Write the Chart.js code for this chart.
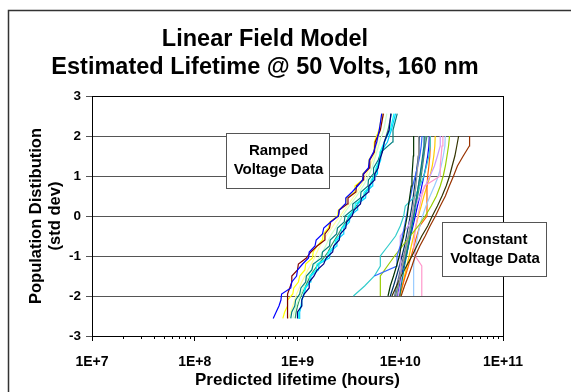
<!DOCTYPE html>
<html>
<head>
<meta charset="utf-8">
<script src="https://cdn.jsdelivr.net/npm/chart.js@4/dist/chart.umd.min.js"></script>
<style>
  html, body { margin: 0; padding: 0; background: #fff; }
</style>
</head>
<body>
<canvas id="chart" width="571" height="392"></canvas>
<script>
// population positions (std dev) shared by the series of each group
const rampY = [-2.56, -2.4, -2.25, -2.1, -1.95, -1.8, -1.65, -1.5, -1.35, -1.2, -1.05, -0.9, -0.75, -0.6, -0.45, -0.3, -0.15, 0, 0.15, 0.3, 0.45, 0.6, 0.75, 0.9, 1.05, 1.2, 1.4, 1.6, 1.85, 2.15, 2.56];
const constY = [-2, -1.75, -1.5, -1.25, -1, -0.75, -0.5, -0.25, 0, 0.25, 0.5, 0.75, 1, 1.25, 1.5, 1.75, 2];

// ramped voltage data, lifetime in 1E+9 hours
const rampLife = [
  [0.58, 0.62, 0.66, 0.69, 0.70, 0.86, 0.88, 0.98, 1.00, 1.12, 1.28, 1.30, 1.48, 1.52, 1.75, 1.80, 2.10, 2.50, 2.55, 2.90, 2.95, 3.40, 3.85, 4.30, 4.35, 4.90, 5.00, 5.50, 5.90, 6.25, 6.60],
  [0.80, 0.80, 0.80, 0.80, 0.80, 0.84, 0.88, 0.88, 1.00, 1.02, 1.22, 1.35, 1.55, 1.85, 1.85, 2.05, 2.10, 2.50, 2.55, 3.05, 3.10, 3.70, 3.75, 4.35, 4.40, 5.00, 5.05, 5.60, 5.70, 6.40, 6.85],
  [1.00, 1.00, 1.10, 1.10, 1.16, 1.30, 1.30, 1.45, 1.55, 1.80, 1.90, 2.20, 2.25, 2.55, 2.60, 2.95, 3.00, 3.40, 3.55, 4.10, 4.20, 4.90, 4.95, 5.60, 5.65, 6.10, 6.30, 6.70, 7.00, 7.80, 8.10],
  [0.72, 0.75, 0.80, 0.80, 0.90, 0.92, 1.02, 1.05, 1.18, 1.20, 1.40, 1.42, 1.55, 1.75, 1.78, 2.00, 2.05, 2.45, 2.50, 2.95, 3.00, 3.60, 3.62, 4.25, 4.30, 4.90, 4.95, 5.55, 5.60, 6.20, 6.70],
  [1.02, 1.03, 1.08, 1.10, 1.15, 1.18, 1.30, 1.32, 1.52, 1.55, 1.95, 2.00, 2.30, 2.35, 2.65, 2.70, 3.05, 3.10, 3.60, 3.65, 4.40, 4.45, 5.15, 5.20, 5.75, 5.80, 6.30, 6.35, 7.00, 8.00, 8.70],
  [0.86, 0.88, 0.94, 0.96, 1.05, 1.08, 1.20, 1.22, 1.38, 1.42, 1.72, 1.75, 2.05, 2.08, 2.40, 2.45, 2.85, 2.90, 3.40, 3.45, 4.10, 4.15, 4.85, 4.90, 5.45, 5.50, 6.10, 6.50, 8.40, 8.50, 9.35],
  [1.04, 1.05, 1.09, 1.10, 1.16, 1.20, 1.33, 1.35, 1.60, 1.62, 2.05, 2.08, 2.40, 2.42, 2.80, 2.82, 3.20, 3.25, 3.80, 3.85, 4.60, 4.65, 5.35, 5.40, 5.95, 6.00, 6.45, 6.50, 7.50, 8.20, 9.00],
  [0.82, 0.86, 0.90, 0.94, 0.98, 1.04, 1.10, 1.18, 1.26, 1.36, 1.46, 1.55, 1.65, 1.78, 1.95, 2.15, 2.35, 2.60, 2.85, 3.15, 3.45, 3.80, 4.10, 4.40, 4.70, 5.00, 5.35, 5.70, 6.00, 6.40, 6.90],
  [0.90, 0.93, 0.97, 1.02, 1.08, 1.14, 1.20, 1.28, 1.36, 1.48, 1.62, 1.75, 1.88, 2.00, 2.15, 2.35, 2.55, 2.75, 3.00, 3.30, 3.65, 4.00, 4.35, 4.70, 5.00, 5.30, 5.60, 5.90, 6.30, 6.90, 7.40],
  [0.95, 0.97, 1.00, 1.04, 1.10, 1.18, 1.25, 1.33, 1.45, 1.60, 1.80, 1.98, 2.12, 2.30, 2.50, 2.70, 2.95, 3.20, 3.50, 3.85, 4.25, 4.65, 5.00, 5.35, 5.65, 5.95, 6.25, 6.60, 7.00, 7.60, 8.20]
];
const rampColors = ['#0000FF', '#800000', '#000080', '#FFFF00', '#00FFFF', '#008080', '#00CCFF', '#FFFF99', '#CCFFCC', '#339966'];

// constant voltage data, lifetime in 1E+10 hours (null = no point)
const constLife = [
  [0.76, 0.80, 0.86, 0.92, 0.98, 1.02, 1.08, 1.12, 1.17, 1.20, 1.24, 1.28, 1.30, 1.32, 1.34, 1.35, 1.35],
  [0.92, 0.96, 1.00, 1.05, 1.10, 1.15, 1.20, 1.25, 1.30, 1.34, 1.38, 1.42, 1.45, 1.48, 1.50, 1.51, 1.51],
  [0.99, 1.02, 1.06, 1.10, 1.15, 1.20, 1.25, 1.30, 1.35, 1.40, 1.45, 1.50, 1.55, 1.60, 1.65, 1.70, 1.71],
  [null, null, 0.56, 0.93, 0.93, 1.00, 1.05, 1.10, 1.15, 1.20, 1.26, 1.32, 1.40, 1.48, 1.55, 1.60, 1.63],
  [0.35, 0.45, 0.56, 0.64, 0.64, 0.76, 0.90, 1.00, 1.08, 1.12, 1.40, 1.55, 1.70, 1.80, 1.90, 1.96, 1.96],
  [0.64, 0.64, 0.64, 0.75, 0.88, 1.05, 1.25, 1.50, 1.75, 2.00, 2.25, 2.45, 2.62, 2.75, 2.85, 2.95, 3.02],
  [0.83, 0.92, 1.02, 1.15, 1.30, 1.45, 1.62, 1.85, 2.05, 2.30, 2.55, 2.80, 3.02, 3.20, 3.40, 3.55, 3.70],
  [1.02, 1.10, 1.20, 1.30, 1.40, 1.55, 1.75, 1.95, 2.20, 2.45, 2.75, 3.00, 3.30, 3.60, 4.10, 4.70, 4.73],
  [1.62, 1.62, 1.62, 1.62, 1.40, 1.35, 1.38, 1.42, 1.48, 1.55, 1.62, 1.72, 2.45, 2.45, 2.50, 2.55, 2.60],
  [0.95, 1.00, 1.03, 1.00, 1.00, 1.00, 1.00, 1.20, 1.30, 1.42, 1.55, 1.75, 1.95, 2.15, 2.30, 2.45, 2.45],
  [1.35, 1.35, 1.35, 1.35, 1.38, 1.42, 1.48, 1.55, 1.65, 1.78, 1.95, 2.15, 2.35, 2.50, 2.62, 2.72, 2.74],
  [0.98, 1.05, 1.12, 1.20, 1.28, 1.36, 1.45, 1.55, 1.82, 1.82, 1.82, 1.82, 1.85, 1.90, 1.94, 1.96, 1.96],
  [0.88, 0.92, 0.97, 1.02, 1.08, 1.14, 1.20, 1.26, 1.32, 1.38, 1.44, 1.50, 1.56, 1.62, 1.68, 1.73, 1.75],
  [0.90, 0.95, 1.00, 1.06, 1.12, 1.18, 1.24, 1.30, 1.36, 1.42, 1.48, 1.54, 1.60, 1.65, 1.70, 1.75, 1.82],
  [0.80, 0.86, 0.92, 0.98, 1.04, 1.10, 1.15, 1.20, 1.25, 1.30, 1.34, 1.38, 1.42, 1.46, 1.50, 1.52, 1.53],
  [0.94, 0.98, 1.02, 1.08, 1.14, 1.20, 1.26, 1.33, 1.40, 1.47, 1.55, 1.62, 1.70, 1.78, 1.85, 1.90, 1.92],
  [1.00, 1.05, 1.10, 1.16, 1.22, 1.28, 1.35, 1.42, 1.50, 1.60, 1.70, 1.82, 1.95, 2.05, 2.12, 2.17, 2.19]
];
const constColors = ['#003300', '#969696', '#008080', '#3366FF', '#33CCCC', '#99CC00', '#333300', '#993300', '#FF99CC', '#CC99FF', '#99CCFF', '#FF6600', '#666699', '#339966', '#003366', '#0000FF', '#FFCC00'];

const xTicks = [1e7, 1e8, 1e9, 1e10, 1e11];
const xTickLabels = ['1E+7', '1E+8', '1E+9', '1E+10', '1E+11'];
const yTickLabels = ['-3', '-2', '-1', '0', '1', '2', '3'];

const FONT = 'Arial, "Liberation Sans", sans-serif';

function toPoints(values, ys, unit) {
  const pts = [];
  values.forEach((v, i) => {
    if (v !== null) pts.push({ x: v * unit, y: ys[i] });
  });
  return pts;
}

const datasets = [];
rampLife.forEach((vals, i) => {
  datasets.push({ data: toPoints(vals, rampY, 1e9), borderColor: rampColors[i], borderWidth: 1.2, pointRadius: 0, fill: false });
});
constLife.forEach((vals, i) => {
  datasets.push({ data: toPoints(vals, constY, 1e10), borderColor: constColors[i], borderWidth: 1.2, pointRadius: 0, fill: false });
});

// frame, minor ticks, title and the two text boxes
const decorations = {
  id: 'decorations',
  beforeDraw(chart) {
    const c = chart.ctx;
    c.save();
    c.strokeStyle = '#333';
    c.lineWidth = 1.5;
    c.beginPath();
    c.moveTo(8.5, 392);
    c.lineTo(8.5, 10.5);
    c.lineTo(571, 10.5);
    c.stroke();
    c.restore();
  },
  afterDatasetsDraw(chart) {
    const c = chart.ctx;
    const a = chart.chartArea;
    const xs = chart.scales.x;
    c.save();
    // plot border
    c.strokeStyle = '#000';
    c.lineWidth = 1;
    c.strokeRect(Math.round(a.left) + 0.5, Math.round(a.top) + 0.5, Math.round(a.right - a.left), Math.round(a.bottom - a.top));
    // minor ticks on the log axis
    c.beginPath();
    for (let e = 7; e < 11; e++) {
      for (let d = 2; d < 10; d++) {
        const px = Math.round(xs.getPixelForValue(d * Math.pow(10, e))) + 0.5;
        c.moveTo(px, a.bottom);
        c.lineTo(px, a.bottom + 3);
      }
    }
    c.stroke();

    // text boxes
    const box = (x, y, w, h, lines) => {
      c.fillStyle = '#fff';
      c.fillRect(x, y, w, h);
      c.strokeStyle = '#555';
      c.lineWidth = 1;
      c.strokeRect(x + 0.5, y + 0.5, w, h);
      c.fillStyle = '#000';
      c.font = 'bold 15px ' + FONT;
      c.textAlign = 'center';
      c.textBaseline = 'middle';
      lines.forEach((t, i) => c.fillText(t, x + w / 2 + 1, y + h / 2 + (i - (lines.length - 1) / 2) * 19));
    };
    box(226, 133, 103, 55, ['Ramped', 'Voltage Data']);
    box(442, 222, 104, 54, ['Constant', 'Voltage Data']);

    // title
    c.fillStyle = '#000';
    c.font = 'bold 23.5px ' + FONT;
    c.textAlign = 'center';
    c.textBaseline = 'middle';
    c.fillText('Linear Field Model', 265, 40);
    c.fillText('Estimated Lifetime @ 50 Volts, 160 nm', 265, 68);
    c.restore();
  }
};

new Chart(document.getElementById('chart'), {
  type: 'line',
  data: { datasets: datasets },
  options: {
    responsive: false,
    animation: false,
    layout: { padding: { left: 0, right: 68, top: 96, bottom: 0 } },
    plugins: { legend: { display: false }, tooltip: { enabled: false }, title: { display: false } },
    scales: {
      x: {
        type: 'logarithmic',
        min: 1e7,
        max: 1e11,
        afterBuildTicks: (scale) => { scale.ticks = xTicks.map((v) => ({ value: v, major: true })); },
        afterFit: (scale) => { scale.height = 56; },
        grid: { drawOnChartArea: false, drawTicks: true, tickLength: 5, color: '#000' },
        border: { display: true, color: '#000', width: 1 },
        ticks: {
          autoSkip: false,
          maxRotation: 0,
          padding: 13,
          color: '#000',
          font: { family: FONT, size: 14, weight: 'bold' },
          callback: (v, i) => xTickLabels[i]
        },
        title: {
          display: true,
          text: 'Predicted lifetime (hours)',
          color: '#000',
          font: { family: FONT, size: 17, weight: 'bold' },
          padding: { top: 0, bottom: 1 }
        }
      },
      y: {
        type: 'linear',
        min: -3,
        max: 3,
        afterBuildTicks: (scale) => { scale.ticks = yTickLabels.map((t) => ({ value: Number(t) })); },
        afterFit: (scale) => { scale.width = 92; },
        grid: { drawOnChartArea: true, drawTicks: true, tickLength: 6, color: '#555' },
        border: { display: true, color: '#000', width: 1 },
        ticks: {
          padding: 5,
          color: '#000',
          font: { family: FONT, size: 13.5, weight: 'bold' },
          callback: (v, i) => yTickLabels[i]
        },
        title: {
          display: true,
          text: ['Population Distibution', '(std dev)'],
          color: '#000',
          font: { family: FONT, size: 16.5, weight: 'bold', lineHeight: 1.15 },
          padding: { top: 27, bottom: 0 }
        }
      }
    }
  },
  plugins: [decorations]
});
</script>
</body>
</html>
